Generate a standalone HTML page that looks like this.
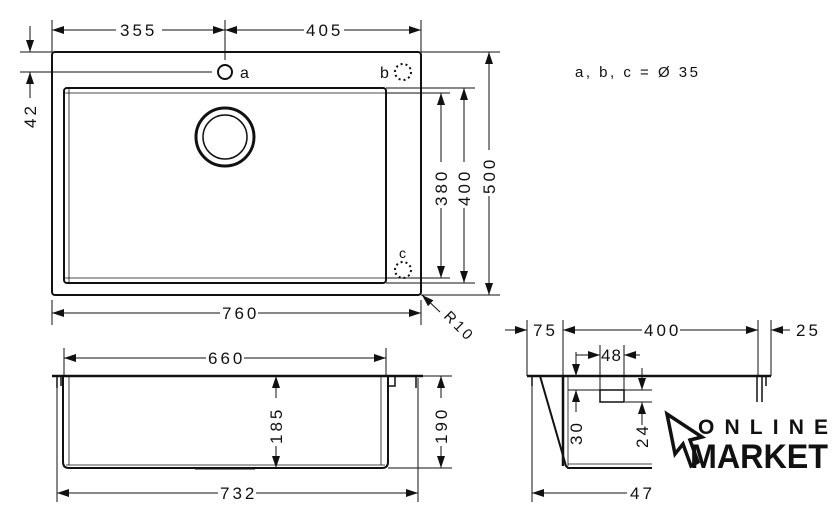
<!DOCTYPE html>
<html><head><meta charset="utf-8"><style>
html,body{margin:0;padding:0;background:#fff;}
svg{display:block;}
text{font-family:"Liberation Sans","DejaVu Sans",sans-serif;font-size:17px;fill:#111;letter-spacing:3px;}
</style></head><body>
<svg width="840" height="524" viewBox="0 0 840 524" xmlns="http://www.w3.org/2000/svg">
<defs>
<marker id="ar" viewBox="0 0 12 8" refX="12" refY="4" markerWidth="12" markerHeight="8" markerUnits="userSpaceOnUse" orient="auto-start-reverse">
<path d="M0,0 L12,4 L0,8 z" fill="#111"/></marker>
</defs>
<g stroke="#111" fill="none">
<rect x="52" y="52" width="369" height="243" rx="3" stroke-width="2"/>
<rect x="64" y="88" width="322" height="195" rx="3" stroke-width="2"/>
<path d="M69,89 V282 M65,93 H386 M65,278 H386" stroke-width="0.8"/>
<circle cx="225" cy="72" r="7" stroke-width="2"/>
<circle cx="225" cy="137" r="29" stroke-width="3"/>
<circle cx="225" cy="137" r="22" stroke-width="1.5"/>
<circle cx="403" cy="72" r="8" stroke-width="2" stroke-dasharray="2,3"/>
<circle cx="403" cy="270" r="8" stroke-width="2" stroke-dasharray="2,3"/>
<g stroke-width="1">
<path d="M52,20 V52 M225,20 V60 M421,20 V52"/>
<path d="M20,52 H52 M20,72 H212"/>
<path d="M421,52 H500 M386,88 H475 M386,93 H450 M386,278 H450 M386,283 H475 M421,295 H500"/>
<path d="M52,300 V325 M421,300 V325"/>
<line x1="52" y1="30" x2="116" y2="30" marker-start="url(#ar)"/>
<line x1="162" y1="30" x2="225" y2="30" marker-end="url(#ar)"/>
<line x1="225" y1="30" x2="304" y2="30" marker-start="url(#ar)"/>
<line x1="344" y1="30" x2="421" y2="30" marker-end="url(#ar)"/>
<line x1="30" y1="26" x2="30" y2="52" marker-end="url(#ar)"/>
<line x1="30" y1="72" x2="30" y2="98" marker-start="url(#ar)"/>
<line x1="441" y1="93" x2="441" y2="162" marker-start="url(#ar)"/>
<line x1="441" y1="208" x2="441" y2="278" marker-end="url(#ar)"/>
<line x1="464" y1="88" x2="464" y2="162" marker-start="url(#ar)"/>
<line x1="464" y1="208" x2="464" y2="283" marker-end="url(#ar)"/>
<line x1="489" y1="52" x2="489" y2="150" marker-start="url(#ar)"/>
<line x1="489" y1="196" x2="489" y2="295" marker-end="url(#ar)"/>
<line x1="52" y1="313" x2="220" y2="313" marker-start="url(#ar)"/>
<line x1="258" y1="313" x2="421" y2="313" marker-end="url(#ar)"/>
<line x1="440" y1="312" x2="422" y2="295" marker-end="url(#ar)"/>
</g>
<path d="M52,376 H423" stroke-width="2.5"/>
<path d="M63,376 V462 Q63,468 69,468 H382 Q388,468 388,462 V376" stroke-width="2"/>
<path d="M69,377 V465 M381,377 V465 M66,465 H385" stroke-width="0.8"/>
<path d="M57,376 V388 M61,376 V386 M416,376 V388 M388,376 V386 H395 V376" stroke-width="1.5"/>
<path d="M195,469 H255" stroke-width="1"/>
<g stroke-width="1">
<path d="M64,348 V376 M386,348 V376 M388,468 H452 M423,376 H452 M57,378 V502 M418,378 V502"/>
<line x1="64" y1="358" x2="206" y2="358" marker-start="url(#ar)"/>
<line x1="244" y1="358" x2="386" y2="358" marker-end="url(#ar)"/>
<line x1="276" y1="376" x2="276" y2="398" marker-start="url(#ar)"/>
<line x1="276" y1="446" x2="276" y2="468" marker-end="url(#ar)"/>
<line x1="441" y1="376" x2="441" y2="398" marker-start="url(#ar)"/>
<line x1="441" y1="446" x2="441" y2="468" marker-end="url(#ar)"/>
<line x1="57" y1="493" x2="218" y2="493" marker-start="url(#ar)"/>
<line x1="256" y1="493" x2="418" y2="493" marker-end="url(#ar)"/>
</g>
<path d="M527,376 H771" stroke-width="2.5"/>
<path d="M540,376 L566,466 L568,468 H652" stroke-width="2"/>
<path d="M563,376 V466" stroke-width="2.5"/>
<path d="M568,377 V466 M568,464 H652" stroke-width="0.8"/>
<path d="M532,376 V386 M757,376 V402 M762,376 V402 M766,376 V386" stroke-width="1.5"/>
<rect x="600" y="390" width="24" height="12" stroke-width="1.5"/>
<g stroke-width="1">
<path d="M527,320 V376 M563,320 V376 M758,320 V376 M771,320 V376"/>
<path d="M576,352 V376 M600,345 V390 M624,345 V390 M568,390 H652 M625,402 H652 M532,386 V502"/>
<line x1="505" y1="330" x2="527" y2="330" marker-end="url(#ar)"/>
<line x1="563" y1="330" x2="642" y2="330" marker-start="url(#ar)"/>
<line x1="680" y1="330" x2="758" y2="330" marker-end="url(#ar)"/>
<line x1="771" y1="330" x2="790" y2="330" marker-start="url(#ar)"/>
<line x1="576" y1="355" x2="600" y2="355" marker-end="url(#ar)"/>
<line x1="624" y1="355" x2="640" y2="355" marker-start="url(#ar)"/>
<line x1="576" y1="362" x2="576" y2="376" marker-end="url(#ar)"/>
<line x1="576" y1="390" x2="576" y2="412" marker-start="url(#ar)"/>
<line x1="642" y1="368" x2="642" y2="390" marker-end="url(#ar)"/>
<line x1="642" y1="402" x2="642" y2="425" marker-start="url(#ar)"/>
<line x1="532" y1="493" x2="627" y2="493" marker-start="url(#ar)"/>
</g>
</g>
<text x="120" y="36">355</text>
<text x="306" y="36">405</text>
<text x="240" y="78" style="letter-spacing:0;font-size:16px">a</text>
<text x="380" y="78" style="letter-spacing:0;font-size:16px">b</text>
<text x="399" y="258" style="letter-spacing:0;font-size:14px">c</text>
<text x="575" y="77" style="font-size:15px;letter-spacing:2.5px">a, b, c = Ø 35</text>
<text x="222" y="319">760</text>
<text transform="translate(36,128) rotate(-90)">42</text>
<text transform="translate(447,206) rotate(-90)">380</text>
<text transform="translate(470,206) rotate(-90)">400</text>
<text transform="translate(495,194) rotate(-90)">500</text>
<text transform="translate(443,317) rotate(45)" style="font-size:15px">R10</text>
<text x="208" y="364">660</text>
<text transform="translate(282,444) rotate(-90)">185</text>
<text transform="translate(447,444) rotate(-90)">190</text>
<text x="220" y="499">732</text>
<text x="533" y="336">75</text>
<text x="644" y="336">400</text>
<text x="796" y="336">25</text>
<text x="601" y="361" style="letter-spacing:1px">48</text>
<text transform="translate(582,445) rotate(-90)">30</text>
<text transform="translate(648,448) rotate(-90)">24</text>
<text x="630" y="499">47</text>
<path d="M667,414 L675,454 L683,444 L691,466 L698,462 L690,440 L702,437 Z" fill="none" stroke="#111" stroke-width="3.5" stroke-linejoin="miter"/>
<text x="698" y="434" textLength="130" lengthAdjust="spacing" style="font-size:21px;font-weight:bold;letter-spacing:0">ONLINE</text>
<text x="690" y="468" textLength="138" lengthAdjust="spacingAndGlyphs" style="font-size:34px;font-weight:900;letter-spacing:0">MARKET</text>
</svg>
</body></html>
